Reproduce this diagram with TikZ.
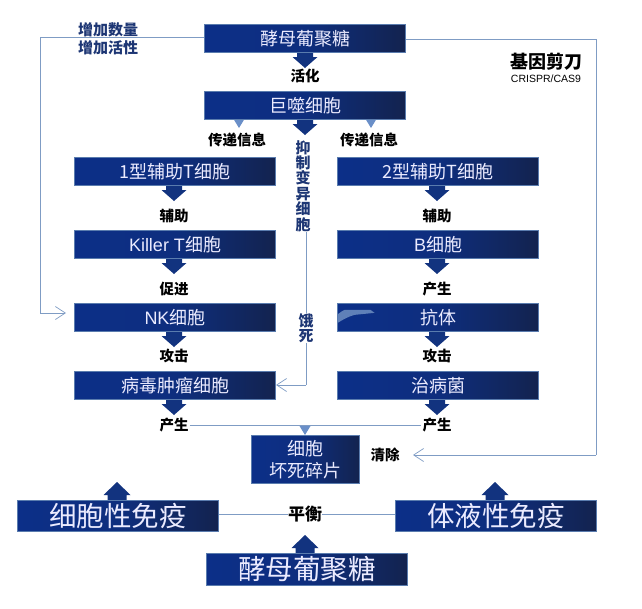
\documentclass[tikz,border=0pt]{standalone}
\usepackage{fontspec}
\setmainfont{Noto Sans CJK SC}
\newfontfamily\latn{Liberation Sans}
\usetikzlibrary{arrows.meta}
\definecolor{boxl}{HTML}{0C2F88}
\definecolor{boxm}{HTML}{0E2E7E}
\definecolor{boxr}{HTML}{13234F}
\definecolor{boxe}{HTML}{5A7CAE}
\definecolor{linec}{HTML}{7F9CC4}
\definecolor{arrowc}{HTML}{12337F}
\definecolor{lightc}{HTML}{6A8FC8}
\definecolor{blabel}{HTML}{1D3674}
\definecolor{swoosh}{HTML}{5F80B8}
\tikzset{
  x=1pt,y=-1pt,
  bx/.style={draw=boxe,line width=1pt,left color=boxl,right color=boxr,middle color=boxm,text=white!92!blue,inner sep=0pt,anchor=north west,align=center,font=\fontsize{18}{22}\selectfont},
  big/.style={bx,font=\fontsize{27.5}{32}\selectfont},
  lab/.style={font=\fontsize{14.5}{17}\bfseries\selectfont,text=black,inner sep=1pt},
  blab/.style={font=\fontsize{15}{17}\bfseries\selectfont,text=blabel,inner sep=0pt,align=center},
  conn/.style={draw=linec,line width=0.9pt},
  opent/.style={-{Straight Barb[length=10pt,width=13pt,line width=0.7pt]}},
}
\newcommand{\dnarrow}[2]{% x, y of box bottom
  \fill[arrowc] (#1-8,#2) -- (#1+8,#2) -- (#1+8,#2+5) -- (#1+12.5,#2+5) -- (#1,#2+16) -- (#1-12.5,#2+5) -- (#1-8,#2+5) -- cycle;}
\newcommand{\uparrowb}[2]{% x, y of box top
  \fill[arrowc] (#1-9.5,#2) -- (#1+9.5,#2) -- (#1+9.5,#2-5) -- (#1+13.5,#2-5) -- (#1,#2-18) -- (#1-13.5,#2-5) -- (#1-9.5,#2-5) -- cycle;}
\newcommand{\tri}[2]{%
  \fill[lightc] (#1-5.5,#2) -- (#1+5.5,#2) -- (#1,#2+9) -- cycle;}
\begin{document}
\begin{tikzpicture}
\useasboundingbox (0,0) rectangle (642,608);
\coordinate (lc1) at (40,37.5);
\coordinate (lc2) at (40,313);
\coordinate (lend) at (66,313);
\coordinate (rc1) at (596,39.5);
\coordinate (rc2) at (596,455);
\coordinate (rend) at (413,455);
\coordinate (mc1) at (306,235);
\coordinate (mc2) at (306,385);
\coordinate (mend) at (276,385);
\coordinate (bal) at (305,514);
% arrows under boxes drawn first
\dnarrow{305}{52}
\dnarrow{305}{119}
\tri{239}{119}
\tri{371}{119}
\dnarrow{174}{185}
\dnarrow{437}{185}
\dnarrow{174}{258}
\dnarrow{437}{258}
\dnarrow{174}{331}
\dnarrow{437}{331}
\dnarrow{174}{399}
\dnarrow{437}{399}
\uparrowb{117}{500}
\uparrowb{495}{500}
\uparrowb{305}{553}
\tri{305}{426}
% boxes
\node[bx,minimum width=201pt,minimum height=28pt] (top) at (204,24) {酵母葡聚糖};
\node[bx,minimum width=201pt,minimum height=28pt] (mac) at (204,91) {巨噬细胞};
\node[bx,minimum width=201pt,minimum height=28pt] (th1) at (74,157) {1型辅助T细胞};
\node[bx,minimum width=201pt,minimum height=28pt] (th2) at (337,157) {2型辅助T细胞};
\node[bx,minimum width=201pt,minimum height=28pt] (kil) at (74,230) {{\latn Killer T}细胞};
\node[bx,minimum width=201pt,minimum height=28pt] (bc) at (337,230) {{\latn B}细胞};
\node[bx,minimum width=201pt,minimum height=28pt] (nk) at (74,303) {{\latn NK}细胞};
\node[bx,minimum width=201pt,minimum height=28pt,
  path picture={\fill[swoosh] (-94.5,4.5) .. controls (-85.5,2.5) and (-79.5,-5.5) .. (-65.5,-9.5) -- (-45.5,-11.5) -- (-49.5,-14.5) -- (-75.5,-14.5) .. controls (-85.5,-9.5) and (-89.5,-1.5) .. (-94.5,4.5) -- cycle;}] (ab) at (337,303) {抗体};
\node[bx,minimum width=201pt,minimum height=28pt] (tum) at (74,371) {病毒肿瘤细胞};
\node[bx,minimum width=201pt,minimum height=28pt] (pat) at (337,371) {治病菌};
\node[bx,minimum width=108pt,minimum height=48pt] (deb) at (251,435) {细胞\\坏死碎片};
\node[big,minimum width=201pt,minimum height=31pt] (cim) at (17,500) {细胞性免疫};
\node[big,minimum width=201pt,minimum height=31pt] (him) at (395,500) {体液性免疫};
\node[big,minimum width=201pt,minimum height=32pt] (gl) at (206,553) {酵母葡聚糖};
% labels
\node[lab] (l1) at (305,76) {活化};
\node[lab] (l2) at (237,139.5) {传递信息};
\node[lab] (l3) at (369,139.5) {传递信息};
\node[lab] (l4) at (174,216) {辅助};
\node[lab] (l5) at (437,216) {辅助};
\node[lab] (l6) at (174,289) {促进};
\node[lab] (l7) at (437,289) {产生};
\node[lab] (l8) at (174,356) {攻击};
\node[lab] (l9) at (437,356) {攻击};
\node[lab] (l10) at (174,425) {产生};
\node[lab] (l11) at (437,425) {产生};
\node[lab] (l12) at (385,455) {清除};
\node[font=\fontsize{17}{19}\bfseries\selectfont,text=black,inner sep=0pt] (l13) at (bal) {平衡};
\node[blab,align=left,font=\fontsize{15}{17.5}\bfseries\selectfont] (l14) at (108,39) {增加数量\\增加活性};
\node[blab,text width=15pt,align=center,font=\fontsize{15}{15.4}\bfseries\selectfont] (l15) at (303,186) {抑\\制\\变\\异\\细\\胞};
\node[blab,text width=15pt,align=center,font=\fontsize{15}{15.4}\bfseries\selectfont] (l16) at (306,328) {饿\\死};
\node[font=\fontsize{18}{20}\bfseries\selectfont,inner sep=0pt,text=black] (l17) at (546,62) {基因剪刀};
\node[font=\latn\fontsize{10.5}{12}\selectfont,inner sep=0pt,text=black] (l18) at (546,79) {CRISPR/CAS9};
% lines
\draw[conn] (top.west |- lc1) -- (lc1) -- (lc2);
\draw[conn,opent] (lc2) -- (lend);
\draw[conn] (top.east |- rc1) -- (rc1) -- (rc2);
\draw[conn,opent] (rc2) -- (rend);
\draw[conn] (l15.south -| mc1) -- (l16.north -| mc1);
\draw[conn] (l16.south -| mc1) -- (mc2);
\draw[conn,opent] (mc2) -- (mend);
\draw[conn] (l10.east) -- (l11.west);
\draw[conn] (cim.east |- bal) -- (l13.west);
\draw[conn] (l13.east) -- (him.west |- bal);
\end{tikzpicture}
\end{document}
